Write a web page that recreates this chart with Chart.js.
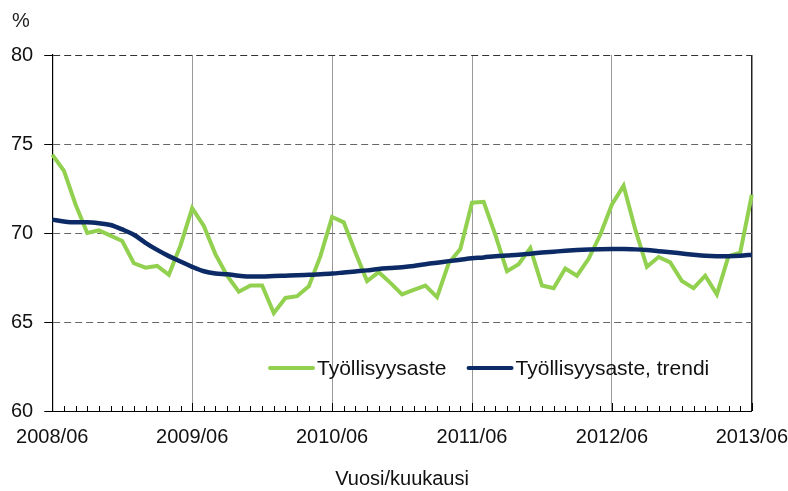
<!DOCTYPE html>
<html>
<head>
<meta charset="utf-8">
<script src="https://cdn.jsdelivr.net/npm/chart.js@4.4.1/dist/chart.umd.min.js"></script>
<style>
  html, body { margin: 0; padding: 0; background: #fff; }
  #wrap { width: 788px; height: 491px; }
</style>
</head>
<body>
<div id="wrap"><canvas id="tyollisyys"></canvas></div>
<script>
const months = [
  '2008/06','2008/07','2008/08','2008/09','2008/10','2008/11','2008/12',
  '2009/01','2009/02','2009/03','2009/04','2009/05','2009/06','2009/07','2009/08','2009/09','2009/10','2009/11','2009/12',
  '2010/01','2010/02','2010/03','2010/04','2010/05','2010/06','2010/07','2010/08','2010/09','2010/10','2010/11','2010/12',
  '2011/01','2011/02','2011/03','2011/04','2011/05','2011/06','2011/07','2011/08','2011/09','2011/10','2011/11','2011/12',
  '2012/01','2012/02','2012/03','2012/04','2012/05','2012/06','2012/07','2012/08','2012/09','2012/10','2012/11','2012/12',
  '2013/01','2013/02','2013/03','2013/04','2013/05','2013/06'
];
const shownLabels = ['2008/06', '2009/06', '2010/06', '2011/06', '2012/06', '2013/06'];

const tyollisyysaste = [
  74.4, 73.5, 71.6, 70.0, 70.15, 69.85, 69.55, 68.3, 68.05, 68.15, 67.65, 69.3,
  71.4, 70.4, 68.8, 67.6, 66.7, 67.05, 67.05, 65.5, 66.35, 66.45, 67.0, 68.7,
  70.9, 70.6, 68.9, 67.3, 67.8, 67.2, 66.55, 66.8, 67.05, 66.4, 68.3, 69.1,
  71.7, 71.75, 69.9, 67.85, 68.25, 69.15, 67.05, 66.9, 68.0, 67.6, 68.55, 69.9,
  71.6, 72.65, 70.2, 68.1, 68.65, 68.35, 67.3, 66.9, 67.6, 66.55, 68.7, 68.9,
  72.15
];
const trendi = [
  70.75, 70.65, 70.6, 70.6, 70.55, 70.45, 70.2, 69.9, 69.45, 69.05, 68.7, 68.4,
  68.1, 67.85, 67.72, 67.68, 67.6, 67.55, 67.55, 67.58, 67.6, 67.62, 67.65, 67.68,
  67.72, 67.78, 67.84, 67.9, 67.98, 68.03, 68.08, 68.15, 68.25, 68.33, 68.42, 68.5,
  68.58, 68.63, 68.7, 68.74, 68.78, 68.84, 68.9, 68.95, 69.0, 69.04, 69.07, 69.09,
  69.1, 69.1, 69.08, 69.04, 68.98, 68.92, 68.85, 68.78, 68.72, 68.7, 68.7, 68.72,
  68.78
];
const yTicks = [60, 65, 70, 75, 80];

const fontFamily = '"Liberation Sans", Arial, sans-serif';

// pienet kuukausiviivat x-akselin sisäpuolelle, prosenttimerkki ja selite
const koristeet = {
  id: 'koristeet',
  afterDraw(chart) {
    const ctx = chart.ctx;
    const x = chart.scales.x;
    const area = chart.chartArea;
    ctx.save();
    ctx.strokeStyle = '#000';
    ctx.lineWidth = 1;
    for (let i = 0; i < months.length; i++) {
      const px = Math.round(x.getPixelForValue(i)) + 0.5;
      const len = shownLabels.includes(months[i]) ? 8 : 5;
      ctx.beginPath();
      ctx.moveTo(px, area.bottom);
      ctx.lineTo(px, area.bottom - len);
      ctx.stroke();
    }

    ctx.fillStyle = '#222';
    ctx.font = '20px ' + fontFamily;
    ctx.textAlign = 'left';
    ctx.textBaseline = 'alphabetic';
    ctx.fillText('%', 12, 27);

    // selite
    ctx.font = '21px ' + fontFamily;
    let lx = 270;
    const ly = 368;
    chart.data.datasets.forEach((ds) => {
      ctx.strokeStyle = ds.borderColor;
      ctx.lineWidth = 4;
      ctx.lineCap = 'round';
      ctx.beginPath();
      ctx.moveTo(lx, ly);
      ctx.lineTo(lx + 43, ly);
      ctx.stroke();
      ctx.fillStyle = '#111';
      ctx.fillText(ds.label, lx + 47, ly + 7);
      lx += 47 + ctx.measureText(ds.label).width + 22;
    });
    ctx.restore();
  }
};

const config = {
  type: 'line',
  data: {
    labels: months,
    datasets: [{
      label: 'Työllisyysaste',
      data: tyollisyysaste,
      borderColor: '#92D050',
      backgroundColor: '#92D050',
      borderWidth: 4,
      pointRadius: 0,
      tension: 0,
      order: 1
    },
    {
      label: 'Työllisyysaste, trendi',
      data: trendi,
      borderColor: '#0C2A66',
      backgroundColor: '#0C2A66',
      borderWidth: 4.5,
      pointRadius: 0,
      tension: 0.4,
      cubicInterpolationMode: 'monotone',
      order: 0
    }]
  },
  options: {
    responsive: true,
    maintainAspectRatio: false,
    animation: false,
    layout: {
      padding: { top: 55, left: 0, right: 0, bottom: 0 }
    },
    scales: {
      x: {
        offset: false,
        grid: {
          drawTicks: false,
          color: function (c) {
            if (c.index === months.length - 1) return '#222';
            if (c.index > 0 && c.index % 12 === 0) return '#999';
            return 'rgba(0,0,0,0)';
          },
          lineWidth: function (c) {
            return c.index === months.length - 1 ? 1.5 : 1;
          }
        },
        border: { display: true, color: '#000', width: 1 },
        ticks: {
          autoSkip: false,
          maxRotation: 0,
          padding: 0,
          color: '#111',
          font: { family: fontFamily, size: 20, lineHeight: 2.65 },
          callback: function (value, index) {
            return shownLabels.includes(months[index]) ? months[index] : '';
          }
        },
        title: {
          display: true,
          text: 'Vuosi/kuukausi',
          color: '#111',
          font: { family: fontFamily, size: 20 },
          padding: { top: 3, bottom: 0 }
        }
      },
      y: {
        min: 60,
        max: 80,
        afterBuildTicks: function (axis) {
          axis.ticks = yTicks.map(v => ({ value: v }));
        },
        grid: {
          color: function (c) {
            return c.tick && c.tick.value === 80 ? '#333' : '#666';
          },
          lineWidth: 1,
          drawTicks: true,
          tickLength: 8,
          tickColor: '#000',
          tickBorderDash: []
        },
        border: { display: true, color: '#000', width: 1.2, dash: [7, 4] },
        ticks: {
          padding: 11,
          color: '#111',
          font: { family: fontFamily, size: 20 }
        }
      }
    },
    plugins: {
      legend: { display: false },
      tooltip: { enabled: false },
      title: { display: false }
    }
  },
  plugins: [koristeet]
};

const tyollisyysChart = new Chart(document.getElementById('tyollisyys'), config);
</script>
</body>
</html>
